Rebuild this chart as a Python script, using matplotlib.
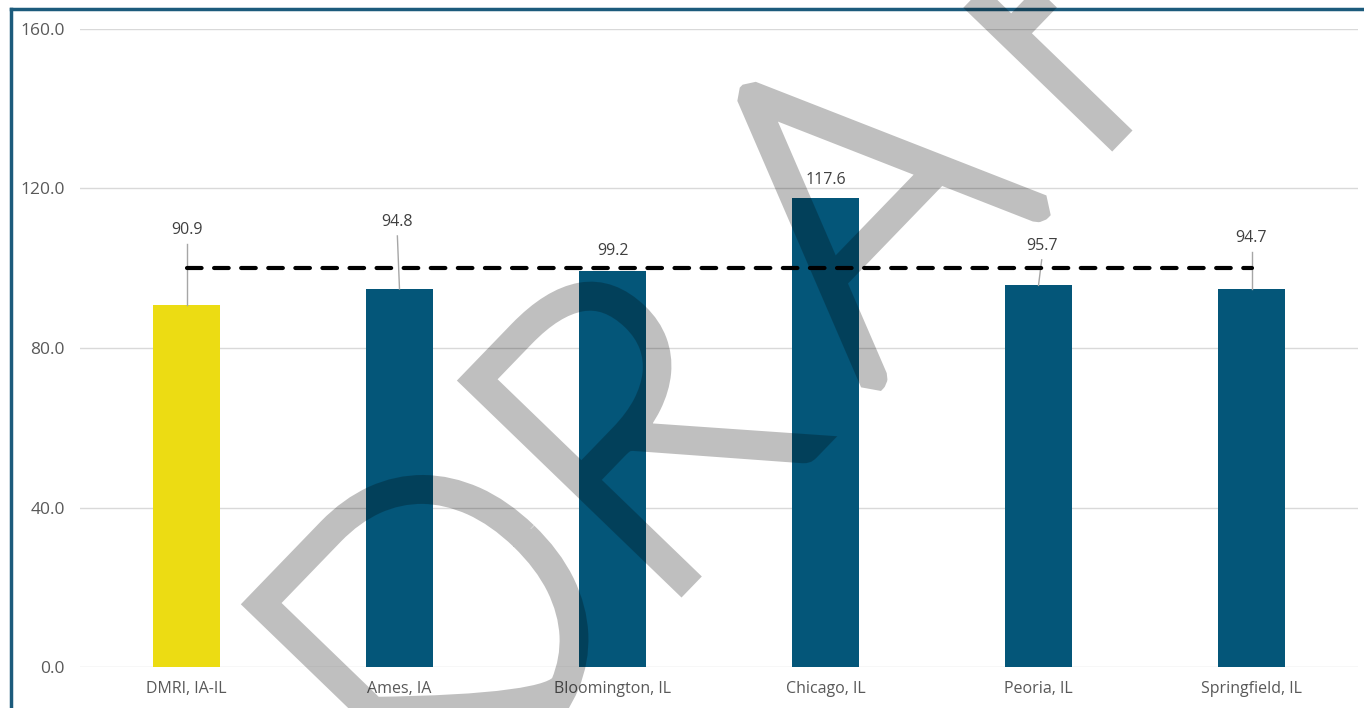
import matplotlib
matplotlib.use("Agg")
import numpy as np
import matplotlib.pyplot as plt
from matplotlib.lines import Line2D
from matplotlib.font_manager import FontProperties
from matplotlib.textpath import TextPath
import matplotlib.patheffects as pe

# ---- data ----
categories = ["DMRI, IA-IL", "Ames, IA", "Bloomington, IL", "Chicago, IL", "Peoria, IL", "Springfield, IL"]
values = [90.9, 94.8, 99.2, 117.6, 95.7, 94.7]
benchmark = 100.0
yticks = [0, 40, 80, 120, 160]
watermark = "DRAFT"

# ---- layout / style ----
bar_colors = ["#ecdc13", "#045679", "#045679", "#045679", "#045679", "#045679"]
label_y = [109.6, 111.6, 104.3, 122.1, 105.6, 107.6]
label_dx = [0.0, -0.01, 0.0, 0.0, 0.015, 0.0]
leader = [True, True, False, False, True, True]

W, H, DPI = 1364, 708, 100
plt.rcParams['font.family'] = ['Open Sans', 'DejaVu Sans']

fig = plt.figure(figsize=(W / DPI, H / DPI), dpi=DPI)
ax = fig.add_axes([80/W, 1 - 667/H, 1278/W, 638/H])

x = list(range(len(categories)))
ax.bar(x, values, width=0.315, color=bar_colors, zorder=3)

ax.set_xlim(-0.5, len(categories) - 0.5)
ax.set_ylim(0, 160)
ax.set_yticks(yticks)
ax.set_yticklabels([f"{v:.1f}" for v in yticks])
ax.set_xticks(x)
ax.set_xticklabels(categories)
ax.tick_params(axis='both', length=0, labelcolor="#595959")
ax.tick_params(axis='y', pad=11, labelsize=12.5)
ax.tick_params(axis='x', pad=10, labelsize=11.5)
ax.yaxis.grid(True, color="#d9d9d9", linewidth=1.0, zorder=0)
ax.set_axisbelow(True)
for s in ax.spines.values():
    s.set_visible(False)

# benchmark dashed line
ax.plot([0, 5], [benchmark, benchmark], color="black", linewidth=3,
        linestyle=(0, (3.5, 3)), dash_capstyle='round', zorder=5)

# data labels with leader lines
for i, v in enumerate(values):
    lx = i + label_dx[i]
    ax.text(lx, label_y[i], f"{v:.1f}", ha='center', va='center',
            fontsize=11.5, color="#404040", zorder=6)
    if leader[i]:
        ax.plot([lx, i], [label_y[i] - 3.5, v], color="#a6a6a6",
                linewidth=1.0, zorder=4)

# outer frame (left and top edges of the chart area)
fig.add_artist(Line2D([10.5/W, 10.5/W], [0, 1 - 8.5/H],
                      transform=fig.transFigure, color="#1c5b7c", linewidth=2.5))
fig.add_artist(Line2D([10.5/W, 1], [1 - 8.5/H, 1 - 8.5/H],
                      transform=fig.transFigure, color="#1c5b7c", linewidth=2.5))

# ---- DRAFT watermark: letters placed along a rotated baseline ----
wm_fp = FontProperties(family='Lato', weight='light')
theta = 46.0
cap_px = 288.0                      # cap height in pixels
origin = np.array([258.0, 604.0])   # top-left of the first letter (pixels, y down)
letter_u = [0.0, 311.0, 586.0, 931.0, 1130.0]   # ink-left of each letter along baseline
letter_join = ['miter', 'miter', 'bevel', 'miter', 'miter']
t = np.deg2rad(theta)
u_vec = np.array([np.cos(t), -np.sin(t)])
d_vec = np.array([np.sin(t), np.cos(t)])
ref = TextPath((0, 0), "D", size=100, prop=wm_fp).get_extents()
font_px = cap_px / (ref.height / 100.0)
for ch, ut, js in zip(watermark, letter_u, letter_join):
    lsb = TextPath((0, 0), ch, size=font_px, prop=wm_fp).get_extents().x0
    p = origin + (ut - lsb) * u_vec + cap_px * d_vec
    fig.text(p[0] / W, 1 - p[1] / H, ch, rotation=theta, rotation_mode='anchor',
             ha='left', va='baseline', fontproperties=wm_fp, color='none',
             fontsize=font_px * 72 / DPI, zorder=10,
             path_effects=[pe.Stroke(linewidth=17.5, foreground=(0, 0, 0, 0.25),
                                     joinstyle=js)])

fig.savefig("out.png", dpi=DPI)
